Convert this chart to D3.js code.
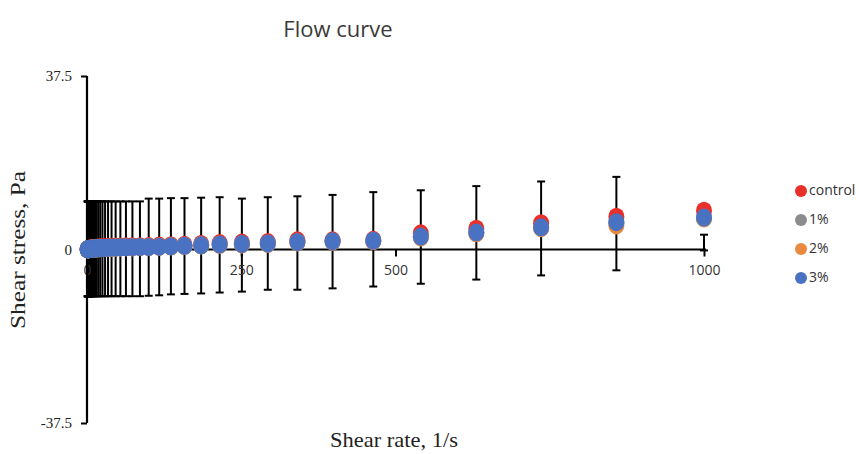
<!DOCTYPE html>
<html>
<head>
<meta charset="utf-8">
<script src="https://cdn.jsdelivr.net/npm/d3@7"></script>
<style>
  body { margin: 0; background: #fff; }
  svg { display: block; }
</style>
</head>
<body>
<svg id="chart" width="859" height="454"></svg>
<script>
// shear rate, 1/s
var shearRate = [1, 1.17, 1.36, 1.58, 1.85, 2.15, 2.51, 2.93, 3.41, 3.98, 4.64, 5.41, 6.31, 7.36, 8.58,
  10, 11.7, 13.6, 15.8, 18.5, 21.5, 25.1, 29.3, 34.1, 39.8, 46.4, 54.1, 63.1, 73.6, 85.8,
  100, 117, 136, 158, 185, 215, 251, 293, 341, 398, 464, 541, 631, 736, 858, 1000];

// shear stress, Pa
var control = [0.05, 0.06, 0.07, 0.08, 0.09, 0.1, 0.11, 0.13, 0.15, 0.17, 0.19, 0.21, 0.23, 0.25, 0.27,
  0.3, 0.33, 0.36, 0.4, 0.43, 0.47, 0.5, 0.55, 0.6, 0.6, 0.65, 0.65, 0.7, 0.7, 0.7,
  0.75, 0.85, 0.9, 1.0, 1.2, 1.4, 1.5, 1.6, 2.0, 2.0, 2.1, 3.5, 4.5, 5.7, 7.1, 8.4];
var pct1 = [0.03, 0.03, 0.04, 0.05, 0.05, 0.06, 0.07, 0.08, 0.09, 0.1, 0.11, 0.12, 0.14, 0.15, 0.17,
  0.19, 0.21, 0.23, 0.25, 0.27, 0.29, 0.32, 0.35, 0.38, 0.4, 0.42, 0.45, 0.48, 0.5, 0.52,
  0.55, 0.6, 0.7, 0.8, 0.9, 1.05, 1.15, 1.25, 1.55, 1.75, 1.85, 2.7, 3.6, 4.7, 5.7, 6.8];
var pct2 = [0.03, 0.03, 0.04, 0.04, 0.05, 0.06, 0.06, 0.07, 0.08, 0.09, 0.1, 0.11, 0.13, 0.14, 0.16,
  0.18, 0.2, 0.22, 0.24, 0.26, 0.28, 0.31, 0.34, 0.37, 0.39, 0.41, 0.44, 0.47, 0.49, 0.51,
  0.54, 0.6, 0.68, 0.78, 0.88, 1.0, 1.1, 1.2, 1.5, 1.7, 1.8, 2.6, 3.5, 4.6, 5.2, 6.7];
var pct3 = [0.03, 0.04, 0.04, 0.05, 0.06, 0.06, 0.07, 0.08, 0.09, 0.1, 0.11, 0.12, 0.14, 0.16, 0.18,
  0.2, 0.22, 0.24, 0.26, 0.28, 0.3, 0.33, 0.36, 0.39, 0.41, 0.43, 0.46, 0.49, 0.51, 0.53,
  0.56, 0.62, 0.7, 0.8, 0.9, 1.1, 1.2, 1.3, 1.6, 1.8, 1.9, 2.8, 3.7, 4.8, 5.9, 6.9];

// error bar ends, Pa
var errTop = [10.4, 10.4, 10.4, 10.4, 10.4, 10.4, 10.4, 10.4, 10.4, 10.4, 10.4, 10.4, 10.4, 10.4, 10.4,
  10.4, 10.4, 10.4, 10.4, 10.4, 10.4, 10.4, 10.4, 10.4, 10.4, 10.4, 10.4, 10.4, 10.4, 10.4,
  11.0, 11.0, 11.1, 11.1, 11.2, 11.3, 11.0, 11.3, 11.5, 11.8, 12.4, 12.8, 13.7, 14.7, 15.7, 3.2];
var errBottom = [-10.1, -10.1, -10.1, -10.1, -10.1, -10.1, -10.1, -10.1, -10.1, -10.1, -10.1, -10.1, -10.1, -10.1, -10.1,
  -10.1, -10.1, -10.1, -10.1, -10.1, -10.1, -10.1, -10.1, -10.1, -10.1, -10.1, -10.1, -10.1, -10.1, -10.1,
  -10.0, -9.9, -9.7, -9.6, -9.5, -9.3, -9.1, -8.7, -8.7, -8.4, -8.0, -7.4, -6.5, -5.6, -4.5, -0.2];

var seriesNames = ["control", "1%", "2%", "3%"];
var seriesColors = ["#e8302a", "#8c8c8c", "#e9883f", "#4a72c2"];
var yTicks = [-37.5, 0, 37.5];
var xTicks = [0, 250, 500, 1000];

var svg = d3.select("#chart");

var x = d3.scaleLinear().domain([0, 1000]).range([87, 704]);
var y = d3.scaleLinear().domain([-37.5, 37.5]).range([423, 76]);

// title
svg.append("text").attr("x", 338).attr("y", 37).text("Flow curve")
  .style("font-family", "'Open Sans', sans-serif").style("font-size", "22px").style("fill", "#3a3a3a")
  .attr("text-anchor", "middle");

// error bars
var eb = svg.append("g");
shearRate.forEach(function(s, i) {
  var cx = x(s);
  eb.append("line").attr("x1", cx).attr("x2", cx).attr("y1", y(errTop[i])).attr("y2", y(errBottom[i]))
    .style("stroke", "#000").style("stroke-width", 2);
  eb.append("line").attr("x1", cx - 4).attr("x2", cx + 4).attr("y1", y(errTop[i])).attr("y2", y(errTop[i]))
    .style("stroke", "#000").style("stroke-width", 2);
  eb.append("line").attr("x1", cx - 4).attr("x2", cx + 4).attr("y1", y(errBottom[i])).attr("y2", y(errBottom[i]))
    .style("stroke", "#000").style("stroke-width", 2);
});

// x axis
var xAxis = svg.append("g").attr("transform", "translate(0," + y(0) + ")")
  .call(d3.axisBottom(x).tickValues(xTicks).tickSize(7).tickFormat(d3.format("d")));
xAxis.select(".domain").attr("d", "M87,0H706").style("stroke", "#000").style("stroke-width", 2.2);
xAxis.selectAll(".tick line").style("stroke", "#000").style("stroke-width", 2);
xAxis.selectAll(".tick text").attr("y", 16)
  .style("font-family", "'Open Sans', sans-serif").style("font-size", "14px").style("fill", "#333");

// y axis
var yAxis = svg.append("g").attr("transform", "translate(87,0)")
  .call(d3.axisLeft(y).tickValues(yTicks).tickSize(6).tickFormat(function(d) { return d; }));
yAxis.select(".domain").attr("d", "M0,76V423").style("stroke", "#000").style("stroke-width", 2.2);
yAxis.selectAll(".tick line").style("stroke", "#000").style("stroke-width", 2);
yAxis.selectAll(".tick text").attr("x", -15)
  .style("font-family", "'Liberation Serif', serif").style("font-size", "15px").style("fill", "#222");

// markers
var allSeries = [control, pct1, pct2, pct3];
allSeries.forEach(function(vals, k) {
  svg.append("g").selectAll("ellipse").data(vals).join("ellipse")
    .attr("cx", function(d, i) { return x(shearRate[i]); })
    .attr("cy", function(d) { return y(d); })
    .attr("rx", 8).attr("ry", 9)
    .style("fill", seriesColors[k]);
});

// axis titles
svg.append("text").attr("x", 394).attr("y", 447).text("Shear rate, 1/s")
  .style("font-family", "'Liberation Serif', serif").style("font-size", "21px").style("fill", "#222")
  .attr("text-anchor", "middle").attr("textLength", 128).attr("lengthAdjust", "spacingAndGlyphs");
svg.append("text").attr("transform", "translate(25,250) rotate(-90)").text("Shear stress, Pa")
  .style("font-family", "'Liberation Serif', serif").style("font-size", "22px").style("fill", "#222")
  .attr("text-anchor", "middle").attr("textLength", 158).attr("lengthAdjust", "spacingAndGlyphs");

// legend
var legend = svg.append("g");
seriesNames.forEach(function(n, i) {
  var ly = 191 + i * 29;
  legend.append("circle").attr("cx", 801).attr("cy", ly).attr("r", 6).style("fill", seriesColors[i]);
  legend.append("text").attr("x", 809).attr("y", ly).text(n)
    .style("font-family", "'Open Sans', sans-serif").style("font-size", "14px").style("fill", "#333")
    .attr("dominant-baseline", "middle");
});
</script>
</body>
</html>
